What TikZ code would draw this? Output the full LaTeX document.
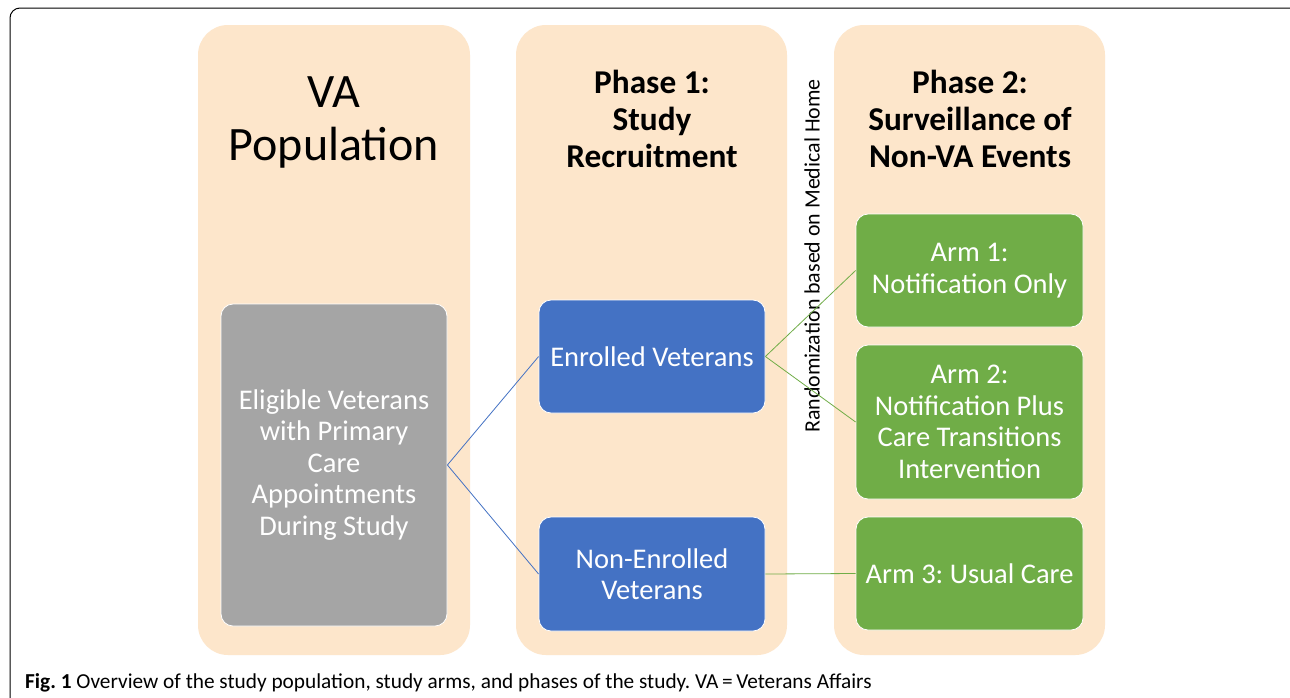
\documentclass[tikz,border=0pt]{standalone}
\usepackage{fontspec}
\setmainfont{Carlito}
\frenchspacing
\definecolor{peach}{HTML}{FDE6CB}
\definecolor{boxgrey}{HTML}{A5A5A5}
\definecolor{boxblue}{HTML}{4472C4}
\definecolor{boxgreen}{HTML}{70AD47}
\begin{document}
\begin{tikzpicture}[x=1pt,y=-1pt,
  column/.style={fill=peach,rounded corners=30pt},
  box/.style={rounded corners=12pt,draw=white,line width=0.8pt,text=white,align=center,
    font=\fontsize{28.5}{31.5}\selectfont,inner sep=0pt},
  title/.style={align=center,text=black},
  link/.style={line width=0.8pt}]
\useasboundingbox (0,0) rectangle (1290,697);
\clip (0,0) rectangle (1290,697);
\fill[white] (0,0) rectangle (1290,697);
% frame
\draw[line width=1pt,rounded corners=10pt] (10,730) -- (10,8) -- (1300,8);
% columns
\fill[column] (198,25) rectangle (470,655);
\fill[column] (516,25) rectangle (787,655);
\fill[column] (834,25) rectangle (1105,655);
% titles
\node[title,font=\fontsize{48}{53}\selectfont] (t1) at (334,122.5) {VA\\Population};
\node[title,font=\bfseries\fontsize{33.3}{37}\selectfont] (t2) at (652,119) {Phase 1:\\Study\\Recruitment};
\node[title,font=\bfseries\fontsize{33.3}{37}\selectfont] (t3) at (970,119) {Phase 2:\\Surveillance of\\Non-VA Events};
\node[rotate=90,font=\fontsize{21.9}{24}\selectfont] (rand) at (812,256) {Randomization based on Medical Home};
% boxes
\node[box,fill=boxgrey,minimum width=226pt,minimum height=322pt] (elig) at (334,465)
  {Eligible Veterans\\with Primary\\Care\\Appointments\\During Study};
\node[box,fill=boxblue,minimum width=226pt,minimum height=113pt] (enr) at (652,356.5) {Enrolled Veterans};
\node[box,fill=boxblue,minimum width=226pt,minimum height=114pt] (non) at (652,574) {Non-Enrolled\\Veterans};
\node[box,fill=boxgreen,minimum width=227pt,minimum height=113pt] (arm1) at (969.5,270.5) {Arm 1:\\Notification Only};
\node[box,fill=boxgreen,minimum width=227pt,minimum height=154pt] (arm2) at (969.5,422) {Arm 2:\\Notification Plus\\Care Transitions\\Intervention};
\node[box,fill=boxgreen,minimum width=227pt,minimum height=113pt] (arm3) at (969.5,573.5) {Arm 3: Usual Care};
% connectors
\draw[link,draw=boxblue] (elig.east) -- (enr.west);
\draw[link,draw=boxblue] (elig.east) -- (non.west);
\draw[link,draw=boxgreen] (enr.east) -- (arm1.west);
\draw[link,draw=boxgreen] (enr.east) -- (arm2.west);
\draw[link,draw=boxgreen] (non.east) -- (arm3.west);
% caption
\node[anchor=west,font=\fontsize{21.3}{24}\selectfont,inner sep=0pt] (cap) at (25,683)
  {\textbf{Fig. 1} Overview of the study population, study arms, and phases of the study. VA\,=\,Veterans Affairs};
\end{tikzpicture}
\end{document}
